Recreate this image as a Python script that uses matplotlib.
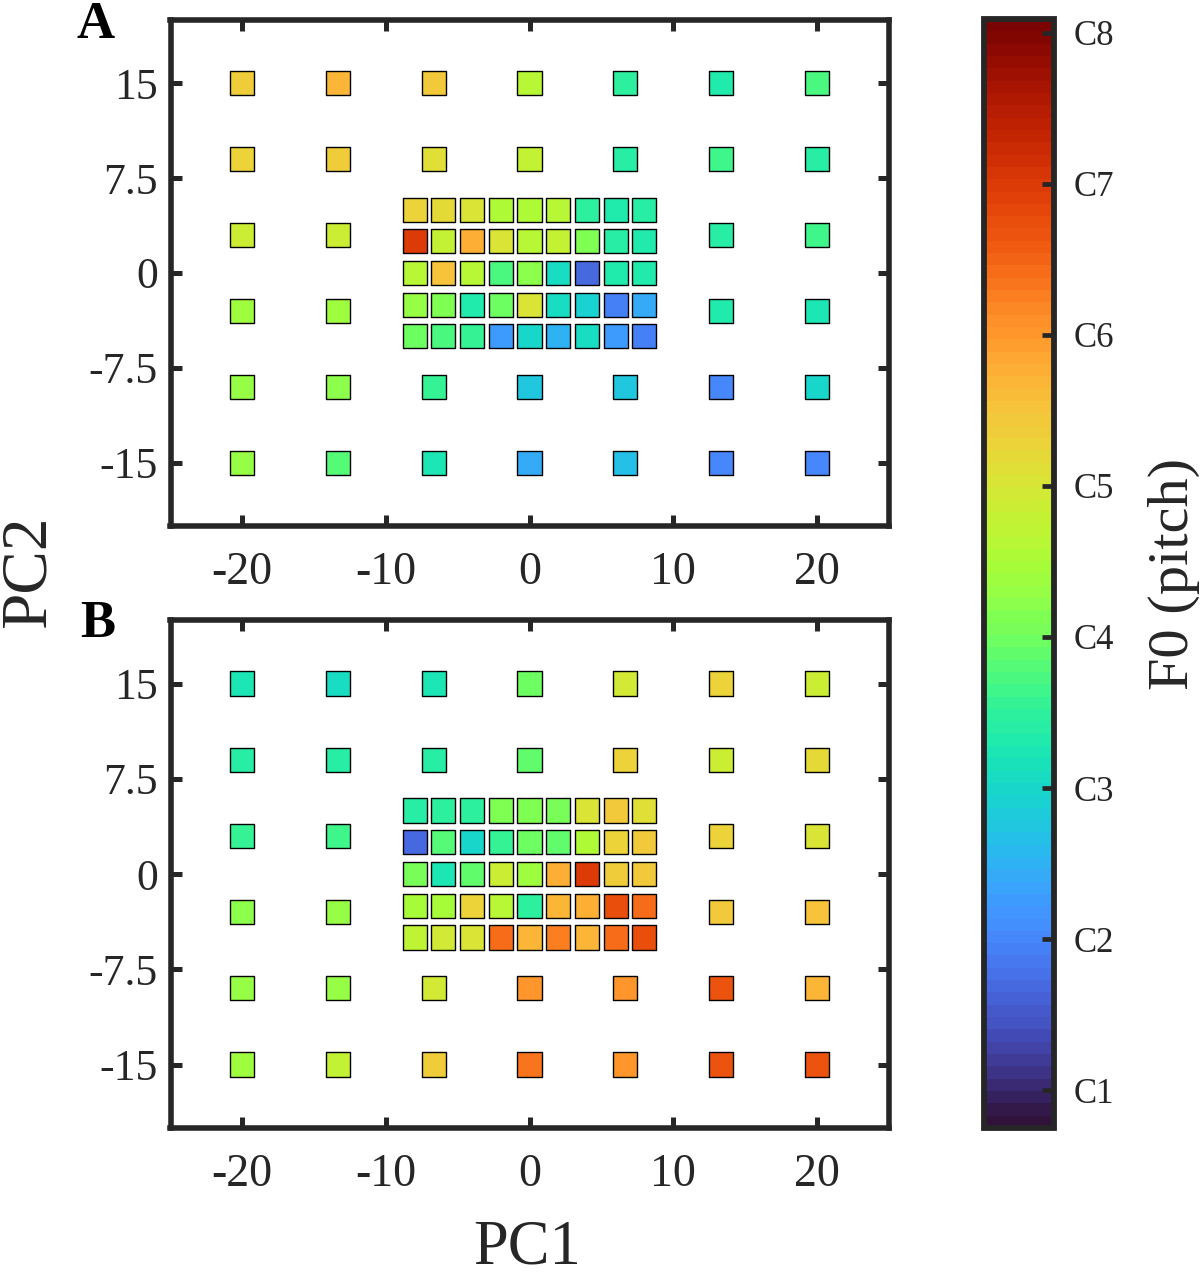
#!/usr/bin/env python3
"""Pitch (F0) over the PC1/PC2 grid, two panels sharing one colorbar."""

import numpy as np
import matplotlib
matplotlib.use('Agg')
import matplotlib.pyplot as plt
from matplotlib.colors import Normalize

plt.rcParams['font.family'] = ['Liberation Serif', 'DejaVu Serif']
plt.rcParams['axes.unicode_minus'] = False

# ===== DATA =====
# Pitch is in octaves, so 4.0 is C4. NaN = no sample there (the dense grid sits in the hole).
outer_x = [-20, -13.33, -6.67, 0, 6.67, 13.33, 20]
outer_y = [15, 9, 3, -3, -9, -15]
inner_x = [-8, -6, -4, -2, 0, 2, 4, 6, 8]
inner_y = [5, 2.5, 0, -2.5, -5]
nan = float('nan')

outer_a = [
    [5.35, 5.70, 5.40, 4.60, 3.50, 3.32, 3.74],
    [5.25, 5.35, 5.10, 4.75, 3.38, 3.66, 3.40],
    [4.90, 4.85, nan, nan, nan, 3.36, 3.68],
    [4.36, 4.40, nan, nan, nan, 3.32, 3.25],
    [4.32, 4.25, 3.55, 2.75, 2.75, 2.00, 3.00],
    [4.28, 3.78, 3.20, 2.40, 2.70, 2.00, 2.00],
]
inner_a = [
    [5.30, 5.20, 5.05, 4.52, 4.52, 4.65, 3.50, 3.30, 3.42],
    [7.00, 4.80, 5.80, 5.00, 4.60, 4.75, 4.15, 3.36, 3.28],
    [4.65, 5.50, 4.65, 3.75, 4.20, 3.05, 1.65, 3.28, 3.28],
    [4.28, 4.15, 3.32, 3.98, 5.05, 3.08, 2.95, 1.95, 2.42],
    [3.98, 3.75, 3.55, 2.28, 3.00, 2.50, 3.05, 2.28, 1.95],
]
outer_b = [
    [3.25, 3.05, 3.20, 3.98, 4.95, 5.30, 4.85],
    [3.40, 3.40, 3.42, 3.93, 5.30, 4.85, 5.20],
    [3.58, 3.68, nan, nan, nan, 5.30, 5.00],
    [4.20, 4.28, nan, nan, nan, 5.40, 5.50],
    [4.28, 4.28, 4.95, 6.00, 6.00, 6.65, 5.65],
    [4.40, 4.75, 5.35, 6.30, 6.05, 6.70, 6.70],
]
inner_b = [
    [3.38, 3.46, 3.52, 4.15, 4.15, 4.05, 5.05, 5.40, 5.10],
    [1.65, 3.78, 3.00, 3.58, 3.98, 3.85, 4.52, 5.30, 5.40],
    [4.05, 3.20, 3.85, 4.85, 4.36, 5.80, 7.00, 5.35, 5.40],
    [4.47, 4.47, 5.30, 4.60, 3.46, 5.70, 5.80, 6.75, 6.40],
    [4.70, 4.95, 5.05, 6.40, 5.70, 6.25, 5.70, 6.40, 6.75],
]

x_ticks = [-20, -10, 0, 10, 20]
y_ticks = [-15, -7.5, 0, 7.5, 15]
y_tick_labels = ['-15', '-7.5', '0', '7.5', '15']
pitch_ticks = [1, 2, 3, 4, 5, 6, 7, 8]
pitch_labels = ['C1', 'C2', 'C3', 'C4', 'C5', 'C6', 'C7', 'C8']
pitch_min, pitch_max = 0.75, 8.09

# ===== STYLE =====
W, H = 1200, 1276
DARK = '#262626'
cmap = plt.get_cmap('turbo', 90)
norm = Normalize(pitch_min, pitch_max)


def px_axes(fig, left, top, right, bottom):
    """Axes from pixel edges, measured from the top left of the picture."""
    return fig.add_axes([left / W, 1 - bottom / H, (right - left) / W, (bottom - top) / H])


def draw_panel(ax, outer, inner):
    for xs, ys, vals in ((outer_x, outer_y, outer), (inner_x, inner_y, inner)):
        gx, gy = np.meshgrid(xs, ys)
        ax.scatter(gx.ravel(), gy.ravel(), c=np.array(vals).ravel(), cmap=cmap, norm=norm,
                   marker='s', s=300, edgecolors='black', linewidths=1.0)
    ax.set_xlim(-25, 25)
    ax.set_ylim(-20, 20)
    ax.set_xticks(x_ticks)
    ax.set_yticks(y_ticks, y_tick_labels)
    ax.tick_params(direction='in', top=True, right=True, length=8, width=3.6,
                   color=DARK, labelcolor=DARK, labelsize=33)
    ax.tick_params(axis='x', pad=18)
    ax.tick_params(axis='y', pad=9, labelsize=31.5)
    for spine in ax.spines.values():
        spine.set_linewidth(4)
        spine.set_color(DARK)


fig = plt.figure(figsize=(W / 100, H / 100), dpi=100)

ax_a = px_axes(fig, 170.5, 20, 888.5, 526)
ax_b = px_axes(fig, 170.5, 620, 888.5, 1128)
draw_panel(ax_a, outer_a, inner_a)
draw_panel(ax_b, outer_b, inner_b)

fig.text(96 / W, 1 - 25 / H, 'A', fontsize=38, fontweight='bold', color='black', ha='center', va='center')
fig.text(98 / W, 1 - 624 / H, 'B', fontsize=38, fontweight='bold', color='black', ha='center', va='center')
fig.text(527 / W, 1 - 1249 / H, 'PC1', fontsize=45, color=DARK, ha='center', va='center')
fig.text(29 / W, 1 - 572 / H, 'PC2', fontsize=47, color=DARK, rotation=90, ha='center', va='center')

# ===== COLORBAR =====
cax = px_axes(fig, 984, 19, 1054, 1128)
cb = fig.colorbar(plt.cm.ScalarMappable(norm=norm, cmap=cmap), cax=cax)
cb.set_ticks(pitch_ticks, labels=pitch_labels)
cb.ax.tick_params(direction='in', length=9, width=3.4, color=DARK, labelcolor=DARK,
                  labelsize=25, pad=14)
cb.outline.set_linewidth(4.2)
cb.outline.set_edgecolor(DARK)
cb.set_label('F0 (pitch)', fontsize=42, color=DARK, labelpad=24)

fig.savefig('out.png', dpi=100)
